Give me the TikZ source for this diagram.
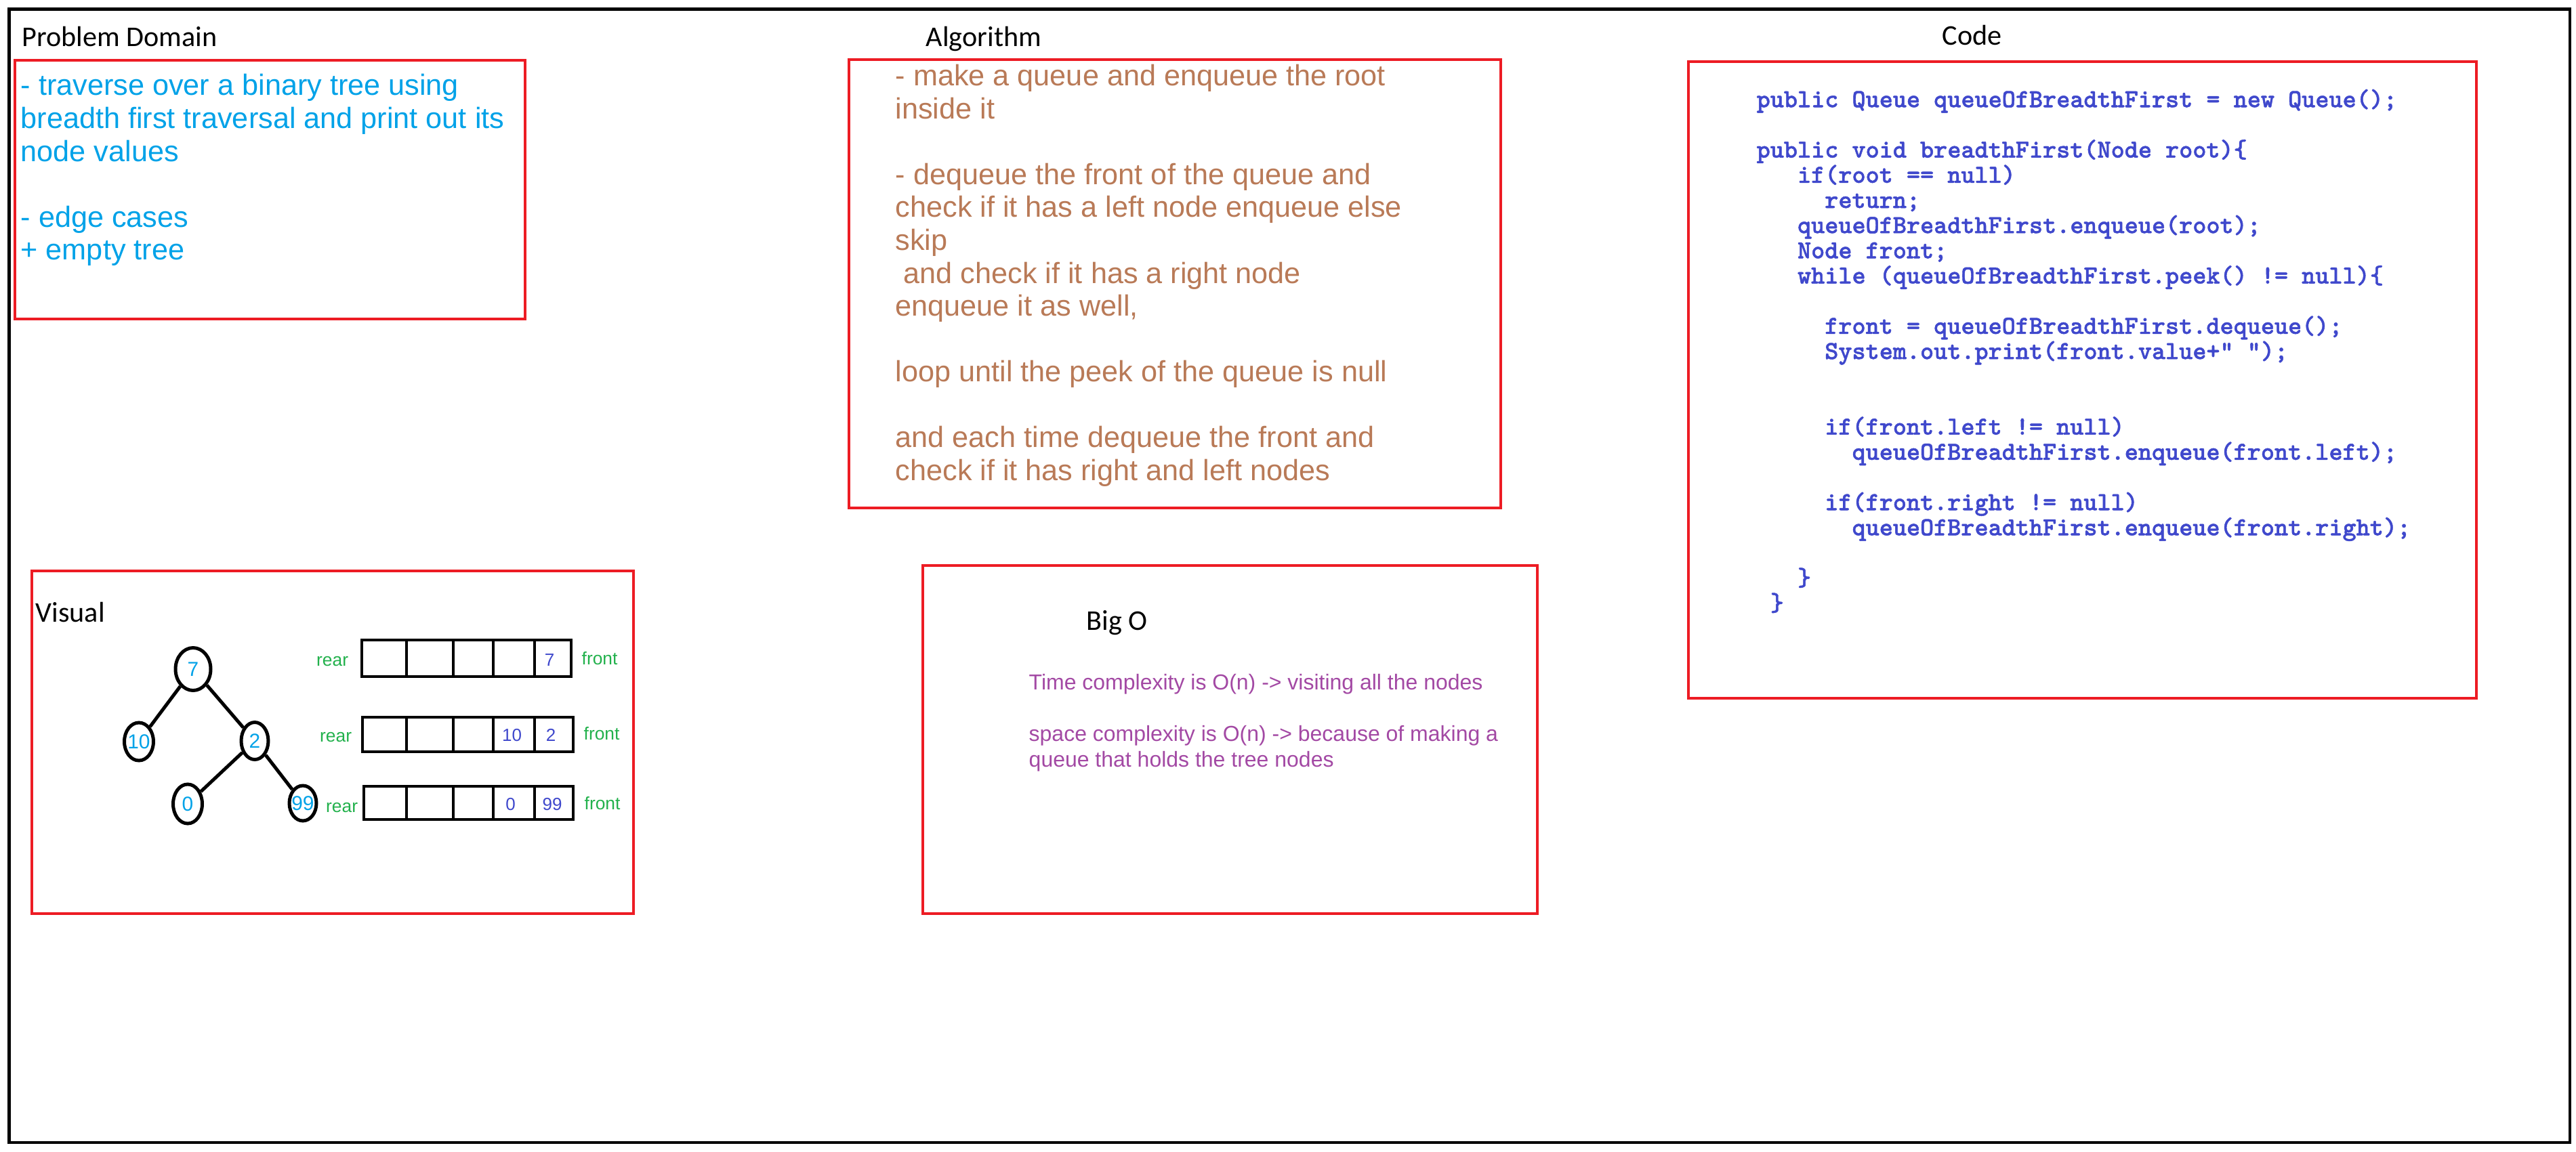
\documentclass[tikz,border=0pt]{standalone}
\usepackage{fontspec}
\setmainfont{Liberation Sans}
\newfontfamily\titlefont{Carlito}
\newfontfamily\codefont{lmmonolt10-bold}[Extension=.otf, FakeBold=1.2]
\usepackage{tikz}
\usetikzlibrary{shapes.geometric}
\definecolor{paintred}{RGB}{237,28,36}
\definecolor{probblue}{RGB}{0,162,232}
\definecolor{algobrown}{RGB}{185,122,87}
\definecolor{bigopurple}{RGB}{163,73,164}
\definecolor{codeblue}{RGB}{63,72,204}
\definecolor{qgreen}{RGB}{34,177,76}
\newcommand{\codeind}[1]{\hspace*{#1\fontcharwd\font`x}}

\begin{document}
\begin{tikzpicture}[
    x=1cm, y=-1cm,
    outerframe/.style={draw=black, line width=1.28pt},
    panel/.style={draw=paintred, line width=1.22pt},
    heading/.style={anchor=base west, inner sep=0pt, font=\titlefont\fontsize{12}{14}\selectfont},
    bodytext/.style={anchor=base west, inner sep=0pt, align=left, font=\fontsize{12.3}{13.8}\selectfont},
    bigotext/.style={anchor=base west, inner sep=0pt, align=left, text=bigopurple, font=\fontsize{9.1}{10.8}\selectfont},
    codetext/.style={anchor=base west, inner sep=0pt, align=left, text=codeblue, font=\codefont\fontsize{10.9}{10.58}\selectfont},
    treenode/.style={ellipse, draw, line width=1.42pt, inner sep=0pt, text=probblue, font=\fontsize{8.5}{10}\selectfont},
    treeedge/.style={line width=1.42pt},
    qline/.style={line width=1.14pt},
    qlabel/.style={anchor=base west, inner sep=0pt, text=qgreen, font=\fontsize{7.5}{9}\selectfont},
    qval/.style={anchor=base, inner sep=0pt, text=codeblue, font=\fontsize{7.4}{9}\selectfont}
]
    \fill[white] (0,0) rectangle (38.02,17);
    \useasboundingbox (0,0) rectangle (38.02,17);
    \draw[outerframe] (0.135,0.135) rectangle (37.93,16.87);

    % Problem domain (text nodes sit on their last line)
    \node[heading] (probtitle) at (0.32,0.69) {Problem Domain};
    \draw[panel] (0.22,0.89) rectangle (7.75,4.71);
    \node[bodytext, text=probblue] (probtext) at (0.30,3.835) {- traverse over a binary tree using\\
        breadth first traversal and print out its\\
        node values\\
        \mbox{}\\
        - edge cases\\
        + empty tree};

    % Algorithm
    \node[heading] (algotitle) at (13.66,0.68) {Algorithm};
    \draw[panel] (12.53,0.88) rectangle (22.15,7.50);
    \node[bodytext, text=algobrown] (algotext) at (13.21,7.09) {- make a queue and enqueue the root\\
        inside it\\
        \mbox{}\\
        - dequeue the front of the queue and\\
        check if it has a left node enqueue else\\
        skip\\
        \hspace*{.278em}and check if it has a right node\\
        enqueue it as well,\\
        \mbox{}\\
        loop until the peek of the queue is null\\
        \mbox{}\\
        and each time dequeue the front and\\
        check if it has right and left nodes};

    % Code
    \node[heading] (codetitle) at (28.66,0.67) {Code};
    \draw[panel] (24.92,0.91) rectangle (36.55,10.31);
    \node[codetext] (codelines) at (25.92,9.02) {public Queue queueOfBreadthFirst = new Queue();\\
        \mbox{}\\
        public void breadthFirst(Node root)\{\\
        \codeind{3}if(root == null)\\
        \codeind{5}return;\\
        \codeind{3}queueOfBreadthFirst.enqueue(root);\\
        \codeind{3}Node front;\\
        \codeind{3}while (queueOfBreadthFirst.peek() != null)\{\\
        \mbox{}\\
        \codeind{5}front = queueOfBreadthFirst.dequeue();\\
        \codeind{5}System.out.print(front.value+" ");\\
        \mbox{}\\
        \mbox{}\\
        \codeind{5}if(front.left != null)\\
        \codeind{7}queueOfBreadthFirst.enqueue(front.left);\\
        \mbox{}\\
        \codeind{5}if(front.right != null)\\
        \codeind{7}queueOfBreadthFirst.enqueue(front.right);\\
        \mbox{}\\
        \codeind{3}\}\\
        \codeind{1}\}};

    % Visual
    \draw[panel] (0.47,8.43) rectangle (9.35,13.49);
    \node[heading] (vistitle) at (0.52,9.18) {Visual};

    % binary tree
    \node[treenode, minimum width=0.52cm, minimum height=0.63cm] (n7) at (2.85,9.88) {7};
    \node[treenode, minimum width=0.43cm, minimum height=0.56cm] (n10) at (2.05,10.95) {\makebox[0pt]{10}};
    \node[treenode, minimum width=0.40cm, minimum height=0.55cm] (n2) at (3.76,10.94) {2};
    \node[treenode, minimum width=0.43cm, minimum height=0.58cm] (n0) at (2.77,11.87) {0};
    \node[treenode, minimum width=0.40cm, minimum height=0.52cm] (n99) at (4.47,11.86) {\makebox[0pt]{99}};
    \draw[treeedge] (n7) -- (n10);
    \draw[treeedge] (n7) -- (n2);
    \draw[treeedge] (n2) -- (n0);
    \draw[treeedge] (n2) -- (n99);

    % queue states
    \foreach \yt/\yb/\xl/\xr in {9.45/9.99/5.34/8.43, 10.59/11.10/5.35/8.46, 11.61/12.10/5.37/8.46} {
        \draw[qline] (\xl,\yt) rectangle (\xr,\yb);
        \foreach \xd in {6.00,6.69,7.28,7.89}
            \draw[qline] (\xd,\yt) -- (\xd,\yb);
    }
    \node[qlabel] (rear1) at (4.665,9.83) {rear};
    \node[qlabel] (rear2) at (4.715,10.95) {rear};
    \node[qlabel] (rear3) at (4.805,11.99) {rear};
    \node[qlabel] (front1) at (8.58,9.81) {front};
    \node[qlabel] (front2) at (8.61,10.92) {front};
    \node[qlabel] (front3) at (8.62,11.95) {front};
    \node[qval] (q1a) at (8.11,9.83) {7};
    \node[qval] (q2a) at (7.555,10.94) {10};
    \node[qval] (q2b) at (8.13,10.94) {2};
    \node[qval] (q3a) at (7.535,11.96) {0};
    \node[qval] (q3b) at (8.15,11.96) {99};

    % Big O
    \draw[panel] (13.62,8.35) rectangle (22.69,13.49);
    \node[heading] (bigotitle) at (16.03,9.30) {Big O};
    \node[bigotext] (bigolines) at (15.18,11.32) {Time complexity is O(n) -> visiting all the nodes\\
        \mbox{}\\
        space complexity is O(n) -> because of making a\\
        queue that holds the tree nodes};
\end{tikzpicture}
\end{document}
